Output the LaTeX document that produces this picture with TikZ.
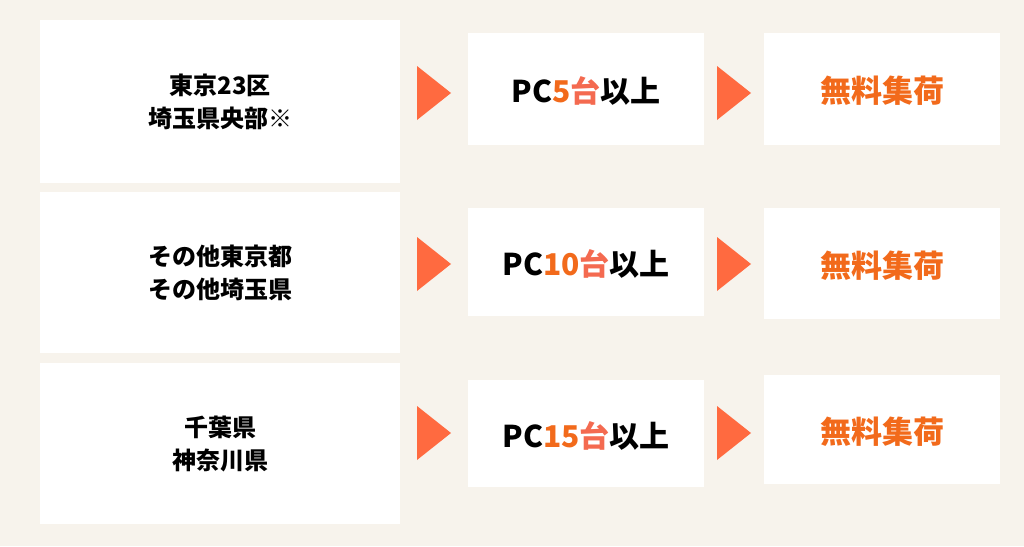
\documentclass[tikz,border=0pt]{standalone}
\usepackage{fontspec}
\setmainfont{Noto Sans CJK JP}
\definecolor{bg}{HTML}{F7F3EC}
\definecolor{tri}{HTML}{FF6A40}
\definecolor{org}{HTML}{F26A1B}
\definecolor{sal}{HTML}{F46A50}
\begin{document}
\begin{tikzpicture}[x=1pt,y=-1pt,
  wbox/.style={fill=white,draw=none},
  tri/.style={fill=tri,draw=none},
  lbl/.style={font=\bfseries\fontsize{24}{33}\selectfont,align=center,text=black},
  pc/.style={font=\bfseries\fontsize{30}{34}\selectfont,text=black},
  fr/.style={font=\bfseries\fontsize{31}{34}\selectfont,text=org}]
\fill[bg] (0,0) rectangle (1024,546);
\useasboundingbox (0,0) rectangle (1024,546);
\foreach \i/\ly/\lh/\my/\mh/\ry/\rh/\cy/\reg/\n in {
  1/20/183/33/145/33/145/93/{東京23区\\埼玉県央部※}/5,
  2/192/353/208/316/208/319/264/{その他東京都\\その他埼玉県}/10,
  3/363/524/380/487/375/484/433/{千葉県\\神奈川県}/15}{
  \fill[wbox] (40,\ly) rectangle (400,\lh);
  \node[lbl] (l\i) at (220,{(\ly+\lh)/2}) {\reg};
  \fill[wbox] (468,\my) rectangle (704,\mh);
  \node[pc] (m\i) at (586,{(\my+\mh)/2+2}) {PC\textcolor{org}{\n}\textcolor{sal}{台}以上};
  \fill[wbox] (764,\ry) rectangle (1000,\rh);
  \node[fr] (r\i) at (882,{(\ry+\rh)/2+2}) {無料集荷};
  \fill[tri] (417,\cy-27) -- (451,\cy) -- (417,\cy+27) -- cycle;
  \fill[tri] (717,\cy-27) -- (751,\cy) -- (717,\cy+27) -- cycle;
}
\end{tikzpicture}
\end{document}
